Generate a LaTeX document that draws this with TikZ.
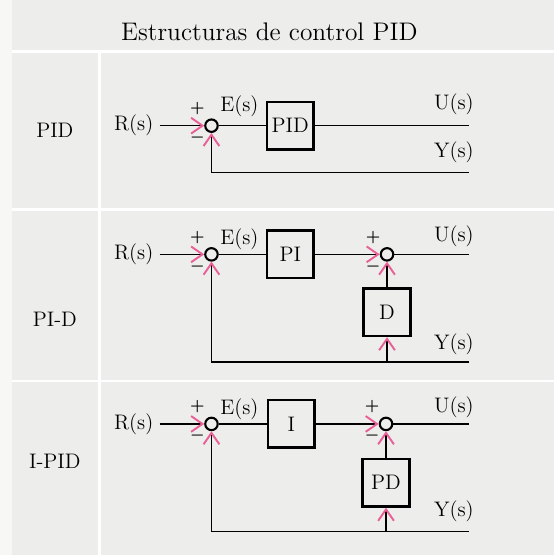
\documentclass[tikz,border=0pt]{standalone}
\usepackage{tikz}
\usetikzlibrary{arrows.meta,positioning,calc}
\definecolor{PanelGray}{RGB}{237,237,235}
\definecolor{EdgeWhite}{RGB}{247,247,245}
\definecolor{TipPink}{RGB}{232,96,150}

\begin{document}
\begin{tikzpicture}[x=0.02cm, y=-0.02cm,
  every node/.style={font=\fontsize{12}{14}\selectfont},
  sumnode/.style={draw, circle, line width=1.2pt, minimum size=0.25cm, inner sep=0pt},
  blockbox/.style={draw, line width=1.4pt, minimum width=0.94cm, minimum height=0.95cm, inner sep=0pt},
  sgn/.style={font=\boldmath\fontsize{9}{9}\selectfont, inner sep=0pt},
  sig/.style={line width=0.9pt},
  tip/.style={-{Straight Barb[color=TipPink, length=6.5pt, width=9pt, line width=1.1pt]}}]
% fondo y rejilla
\fill[PanelGray] (0,0) rectangle (555,556);
\fill[EdgeWhite] (0,0) rectangle (12,556);
\draw[white, line width=1.6pt] (12,52) -- (555,52);
\draw[white, line width=1.6pt] (12,210) -- (555,210);
\draw[white, line width=1.6pt] (12,382) -- (555,382);
\draw[white, line width=1.6pt] (100,52) -- (100,556);
\node[font=\fontsize{14.5}{16}\selectfont] (title) at (270,32) {Estructuras de control PID};

% PID
\node (lpid) at (55,131) {PID};
\node (r1) at (134,126) {R(s)};
\node[sumnode] (s1) at (212,126) {};
\node[blockbox] (pid) at (291,126) {PID};
\coordinate (u1) at (470,126);
\coordinate (y1) at (470,173);
\coordinate (f1) at (212,173);
\node (e1) at (240,107) {E(s)};
\node (lu1) at (455,105) {U(s)};
\node (ly1) at (455,153) {Y(s)};
\draw[sig, tip] (r1) -- (s1);
\draw[sig] (s1) -- (pid);
\draw[sig] (pid) -- (u1);
\draw[sig, tip] (y1) -- (f1) -- (s1);
\node[sgn] (s1p) at ($(s1)+(-14,-17)$) {$+$};
\node[sgn] (s1m) at ($(s1)+(-14,12)$) {$-$};

% PI-D
\node (lpid2) at (55,320) {PI-D};
\node (r2) at (134,255) {R(s)};
\node[sumnode] (s2a) at (212,255) {};
\node[blockbox] (pi) at (291,255) {PI};
\node[sumnode] (s2b) at (388,255) {};
\node[blockbox] (d) at (388,313) {D};
\coordinate (u2) at (470,255);
\coordinate (y2) at (470,363);
\coordinate (f2) at (212,363);
\coordinate (j2) at (388,363);
\node (e2) at (240,240) {E(s)};
\node (lu2) at (455,237) {U(s)};
\node (ly2) at (455,345) {Y(s)};
\draw[sig, tip] (r2) -- (s2a);
\draw[sig] (s2a) -- (pi);
\draw[sig, tip] (pi) -- (s2b);
\draw[sig] (s2b) -- (u2);
\draw[sig, tip] (d) -- (s2b);
\draw[sig, tip] (j2) -- (d);
\draw[sig, tip] (y2) -- (f2) -- (s2a);
\node[sgn] (s2ap) at ($(s2a)+(-14,-17)$) {$+$};
\node[sgn] (s2am) at ($(s2a)+(-14,12)$) {$-$};
\node[sgn] (s2bp) at ($(s2b)+(-14,-17)$) {$+$};
\node[sgn] (s2bm) at ($(s2b)+(-14,12)$) {$-$};

% I-PID
\node (lipid) at (55,462) {I-PID};
\node (r3) at (134,425) {R(s)};
\node[sumnode] (s3a) at (212,425) {};
\node[blockbox] (ibox) at (292,425) {I};
\node[sumnode] (s3b) at (387,425) {};
\node[blockbox] (pd) at (387,484) {PD};
\coordinate (u3) at (470,425);
\coordinate (y3) at (470,533);
\coordinate (f3) at (212,533);
\coordinate (j3) at (387,533);
\node (e3) at (240,410) {E(s)};
\node (lu3) at (455,408) {U(s)};
\node (ly3) at (455,513) {Y(s)};
\draw[sig, tip] (r3) -- (s3a);
\draw[sig] (s3a) -- (ibox);
\draw[sig, tip] (ibox) -- (s3b);
\draw[sig] (s3b) -- (u3);
\draw[sig, tip] (pd) -- (s3b);
\draw[sig, tip] (j3) -- (pd);
\draw[sig, tip] (y3) -- (f3) -- (s3a);
\node[sgn] (s3ap) at ($(s3a)+(-14,-17)$) {$+$};
\node[sgn] (s3am) at ($(s3a)+(-14,12)$) {$-$};
\node[sgn] (s3bp) at ($(s3b)+(-14,-17)$) {$+$};
\node[sgn] (s3bm) at ($(s3b)+(-14,12)$) {$-$};
\end{tikzpicture}
\end{document}
